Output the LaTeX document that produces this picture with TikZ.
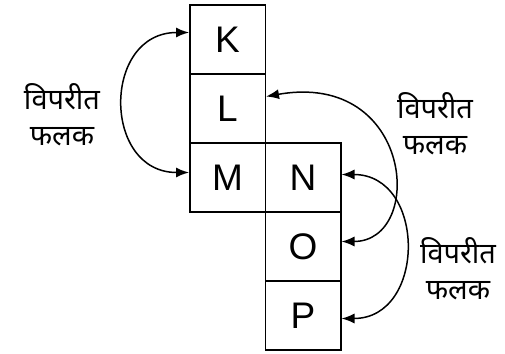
\documentclass[tikz,border=0pt]{standalone}
\usepackage{fontspec}
\setmainfont{Liberation Sans}
\newfontfamily\hindifont[Script=Devanagari]{Noto Sans}
\usepackage{tikz}
\usetikzlibrary{arrows.meta,positioning}
\tikzset{%
	cell/.style     = {draw, rectangle, line width=1.5pt, minimum width=75.5pt, minimum height=69pt, inner sep=0pt, text centered, font=\fontsize{37}{37}\selectfont},
	facetext/.style = {align=center, font=\hindifont\fontsize{29}{36}\selectfont},
	dblarrow/.style = {line width=1.5pt,{Latex[length=13pt,width=10pt]}-{Latex[length=13pt,width=10pt]}},
}

\begin{document}
\begin{tikzpicture}[x=1pt,y=-1pt]
		\useasboundingbox (0,0) rectangle (505,353);
		% net of the cube
		\foreach \n/\x/\y in {K/227.5/39.5,L/227.5/108.5,M/227.5/177.5,N/303/177.5,O/303/246.5,P/303/315.5} \node[cell] (\n) at (\x,\y) {\n};
		
		% opposite faces
		\draw[dblarrow] ([yshift=7pt]K.west) to[out=180,in=180,distance=87pt] ([yshift=5pt]M.west);
		\draw[dblarrow] ([yshift=12pt]L.east) to[out=10,in=0,out distance=150pt,in distance=84pt] ([yshift=5pt]O.east);
		\draw[dblarrow] ([yshift=3pt]N.east) to[out=0,in=0,distance=85pt] ([yshift=-3pt]P.east);
		
		\node[facetext] (oppKM) at (62,115) {विपरीत\\फलक};
		\node[facetext] (oppLO) at (435,124) {विपरीत\\फलक};
		\node[facetext] (oppNP) at (458,269) {विपरीत\\फलक};
		
		\end{tikzpicture}
\end{document}
